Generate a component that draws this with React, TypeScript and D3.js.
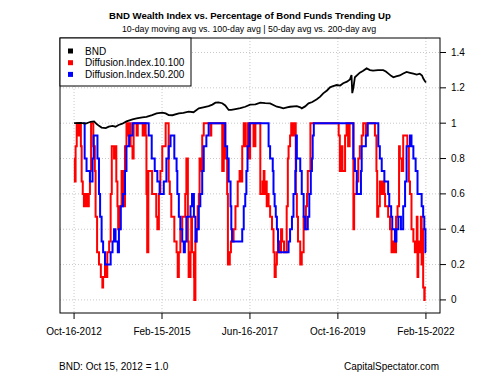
import React from "react";
import * as d3 from "d3";

// Time stamps given as decimal years
const bndDates = [2012.79,2012.83,2012.97,2013.10,2013.23,2013.32,2013.39,2013.45,2013.52,2013.63,2013.71,2013.81,2013.89,2013.97,2014.07,2014.18,2014.34,2014.45,2014.60,2014.71,2014.86,2014.98,2015.13,2015.22,2015.30,2015.40,2015.57,2015.69,2015.83,2015.96,2016.10,2016.22,2016.36,2016.46,2016.54,2016.62,2016.72,2016.80,2016.89,2016.96,2017.07,2017.20,2017.33,2017.46,2017.60,2017.73,2017.86,2017.99,2018.17,2018.26,2018.34,2018.44,2018.52,2018.70,2018.79,2018.83,2018.92,2019.01,2019.11,2019.23,2019.32,2019.40,2019.50,2019.58,2019.66,2019.76,2019.85,2019.93,2020.03,2020.11,2020.15,2020.17,2020.20,2020.24,2020.37,2020.45,2020.55,2020.64,2020.72,2020.85,2020.99,2021.06,2021.12,2021.20,2021.26,2021.33,2021.43,2021.51,2021.61,2021.70,2021.79,2021.88,2021.96,2022.02,2022.05,2022.09,2022.125];
const bndValues = [1.0,1.0,1.002,0.998,1.008,1.01,0.995,0.985,0.975,0.972,0.98,0.985,0.98,0.99,0.997,1.01,1.022,1.027,1.033,1.036,1.046,1.055,1.06,1.055,1.046,1.045,1.055,1.058,1.065,1.062,1.084,1.09,1.097,1.105,1.116,1.118,1.113,1.1,1.075,1.075,1.08,1.085,1.093,1.105,1.107,1.116,1.113,1.112,1.093,1.09,1.084,1.09,1.093,1.097,1.09,1.084,1.095,1.112,1.12,1.135,1.15,1.169,1.185,1.203,1.21,1.216,1.213,1.226,1.235,1.248,1.273,1.17,1.2,1.26,1.286,1.295,1.31,1.3,1.297,1.3,1.3,1.292,1.282,1.268,1.26,1.265,1.27,1.28,1.29,1.285,1.28,1.275,1.28,1.27,1.254,1.24,1.23];

const d10Dates = [2012.79,2012.81,2012.83,2012.86,2012.91,2012.94,2012.97,2012.99,2013.02,2013.05,2013.10,2013.13,2013.18,2013.21,2013.24,2013.30,2013.34,2013.36,2013.40,2013.45,2013.50,2013.54,2013.56,2013.61,2013.65,2013.67,2013.72,2013.76,2013.79,2013.85,2013.88,2013.91,2013.94,2013.96,2014.00,2014.05,2014.09,2014.14,2014.18,2014.21,2014.24,2014.29,2014.34,2014.37,2014.45,2014.48,2014.61,2014.64,2014.69,2014.71,2014.73,2014.76,2014.86,2014.97,2015.00,2015.04,2015.08,2015.13,2015.22,2015.30,2015.33,2015.37,2015.45,2015.51,2015.54,2015.57,2015.61,2015.66,2015.74,2015.77,2015.81,2015.83,2015.88,2015.90,2015.92,2015.97,2015.98,2016.01,2016.04,2016.07,2016.10,2016.12,2016.15,2016.19,2016.23,2016.41,2016.43,2016.72,2016.76,2016.80,2016.85,2016.87,2016.92,2016.95,2017.02,2017.07,2017.13,2017.18,2017.20,2017.25,2017.29,2017.33,2017.39,2017.42,2017.46,2017.55,2017.60,2017.73,2017.79,2017.82,2017.84,2017.86,2017.90,2017.93,2017.95,2017.99,2018.04,2018.08,2018.11,2018.14,2018.17,2018.20,2018.23,2018.28,2018.31,2018.36,2018.43,2018.46,2018.48,2018.52,2018.55,2018.60,2018.64,2018.67,2018.70,2018.73,2018.79,2018.83,2018.88,2018.92,2018.94,2018.97,2018.99,2019.06,2019.81,2019.84,2019.88,2019.91,2019.98,2020.02,2020.06,2020.10,2020.20,2020.22,2020.29,2020.33,2020.37,2020.42,2020.46,2020.53,2020.55,2020.77,2020.81,2020.83,2020.86,2020.90,2020.95,2020.99,2021.02,2021.04,2021.12,2021.17,2021.21,2021.26,2021.30,2021.33,2021.37,2021.41,2021.43,2021.48,2021.52,2021.63,2021.67,2021.70,2021.74,2021.79,2021.83,2021.88,2021.90,2021.92,2021.96,2021.99,2022.01,2022.02,2022.05,2022.08,2022.09,2022.125];
const d10Values = [0.8,0.67,0.87,1.0,0.93,1.0,0.87,0.67,0.6,0.53,0.6,0.53,0.6,0.73,1.0,0.87,0.73,0.47,0.27,0.2,0.13,0.07,0.13,0.2,0.13,0.27,0.33,0.6,0.87,0.8,0.87,0.67,0.53,0.4,0.53,0.73,0.53,0.87,1.0,0.93,1.0,0.87,0.8,1.0,0.93,1.0,0.93,1.0,0.93,0.6,0.27,0.73,0.6,0.47,0.4,0.6,0.73,0.87,1.0,0.67,0.6,0.47,0.33,0.27,0.13,0.27,0.4,0.47,0.6,0.8,0.33,0.13,0.27,0.47,0.27,0.13,0.0,0.33,0.4,0.53,0.6,0.8,0.73,0.93,1.0,0.93,1.0,0.73,1.0,0.8,0.6,0.2,0.27,0.33,0.4,0.53,0.67,0.73,0.67,0.87,1.0,0.87,1.0,0.8,1.0,0.87,1.0,0.6,0.67,0.73,0.6,0.67,0.53,0.6,0.53,0.47,0.4,0.27,0.13,0.2,0.27,0.33,0.27,0.4,0.33,0.27,0.53,0.8,0.87,0.93,1.0,0.93,1.0,0.6,0.47,0.33,0.2,0.27,0.47,0.4,0.53,0.6,0.73,1.0,0.93,0.73,0.87,0.73,0.93,1.0,0.87,1.0,0.4,0.6,0.67,0.8,0.87,0.93,1.0,0.93,1.0,0.93,0.73,0.47,0.53,0.67,0.6,0.67,0.6,0.53,0.47,0.4,0.27,0.33,0.27,0.47,0.53,0.87,0.8,0.73,0.93,0.87,0.67,0.6,0.4,0.33,0.27,0.47,0.13,0.33,0.27,0.47,0.2,0.4,0.07,0.0,0.07,0.07];

const d50Dates = [2013.03,2013.07,2013.12,2013.21,2013.28,2013.31,2013.41,2013.45,2013.48,2013.52,2013.56,2013.61,2013.76,2013.81,2013.85,2013.89,2013.95,2013.98,2014.03,2014.09,2014.14,2014.18,2014.25,2014.34,2014.77,2014.85,2014.93,2015.00,2015.06,2015.17,2015.24,2015.30,2015.35,2015.45,2015.51,2015.53,2015.57,2015.61,2015.66,2015.70,2015.73,2015.77,2015.88,2015.92,2015.97,2016.01,2016.04,2016.10,2016.14,2016.19,2016.23,2016.30,2016.36,2016.80,2016.85,2016.89,2016.94,2016.96,2016.98,2017.25,2017.29,2017.33,2017.36,2017.39,2017.44,2017.95,2017.99,2018.06,2018.08,2018.11,2018.14,2018.17,2018.20,2018.21,2018.48,2018.52,2018.57,2018.61,2018.66,2018.68,2018.70,2018.79,2018.83,2018.88,2018.92,2018.99,2019.03,2019.07,2019.10,2019.12,2019.15,2020.20,2020.24,2020.29,2020.40,2020.42,2020.53,2020.58,2020.86,2020.90,2020.95,2021.02,2021.12,2021.15,2021.20,2021.23,2021.30,2021.34,2021.39,2021.46,2021.52,2021.57,2021.61,2021.70,2021.74,2021.79,2021.85,2021.90,2022.01,2022.05,2022.08,2022.11,2022.125];
const d50Values = [1.0,0.8,0.73,0.67,0.8,0.93,0.8,0.6,0.47,0.33,0.27,0.2,0.27,0.33,0.4,0.33,0.27,0.4,0.53,0.6,0.73,0.87,0.93,1.0,0.93,0.8,0.73,0.67,0.6,0.67,0.8,0.87,0.93,0.8,0.73,0.6,0.47,0.4,0.33,0.27,0.33,0.47,0.53,0.6,0.47,0.33,0.4,0.53,0.6,0.73,0.87,0.93,1.0,0.87,0.8,0.67,0.53,0.4,0.33,0.4,0.53,0.6,0.73,0.87,1.0,0.87,0.8,0.73,0.6,0.53,0.47,0.4,0.33,0.27,0.33,0.4,0.47,0.6,0.73,0.93,0.8,0.73,0.6,0.47,0.4,0.47,0.6,0.73,0.8,0.93,1.0,0.8,0.73,0.6,0.73,0.87,0.93,1.0,0.87,0.8,0.73,0.67,0.6,0.53,0.47,0.4,0.33,0.4,0.47,0.4,0.53,0.67,0.87,0.93,0.87,0.8,0.73,0.6,0.53,0.47,0.4,0.27,0.27];

const xTickLabels = ["2012-10-16", "2015-02-15", "2017-06-16", "2019-10-16", "2022-02-15"];
const yTicks = [0, 0.2, 0.4, 0.6, 0.8, 1, 1.2, 1.4];
const seriesNames = ["BND", "Diffusion.Index.10.100", "Diffusion.Index.50.200"];
const seriesColors = ["#000000", "#FF0000", "#0000FF"];

const W = 500, H = 375;
const L = 60, R = 440, T = 38, B = 313;
const FONT = "'Liberation Sans', Arial, sans-serif";

function yearToDate(d: number): Date {
  const y = Math.floor(d);
  const s = new Date(y, 0, 1).getTime();
  const e = new Date(y + 1, 0, 1).getTime();
  return new Date(s + (d - y) * (e - s));
}
const parse = d3.timeParse("%Y-%m-%d");

export default function App() {
  const first = parse(xTickLabels[0])!;
  const last = parse(xTickLabels[xTickLabels.length - 1])!;
  const pad = (last.getTime() - first.getTime()) * 0.04;
  const x = d3.scaleTime().domain([new Date(first.getTime() - pad), new Date(last.getTime() + pad)]).range([L, R]);
  const y = d3.scaleLinear().domain([-0.074, 1.482]).range([B, T]);
  const fmt = d3.timeFormat("%b-%d-%Y");

  const mk = (ds: number[], vs: number[]) => ds.map((d, i) => [yearToDate(d), vs[i]] as [Date, number]);
  const step = d3.line<[Date, number]>().x(d => x(d[0])).y(d => y(d[1])).curve(d3.curveStepAfter);
  const lin = d3.line<[Date, number]>().x(d => x(d[0])).y(d => y(d[1]));

  const xTicks = xTickLabels.map(s => parse(s)!);

  return (
    <svg width={W} height={H} style={{ position: "absolute", left: 0, top: 0, background: "#fff" }} fontFamily={FONT}>
      <rect width={W} height={H} fill="#fff" />
      <text x={250} y={19} textAnchor="middle" fontSize={9.6} fontWeight="bold">BND Wealth Index vs. Percentage of Bond Funds Trending Up</text>
      <text x={249} y={32} textAnchor="middle" fontSize={8.8}>10-day moving avg vs. 100-day avg | 50-day avg vs. 200-day avg</text>
      {/* grid */}
      {xTicks.map((t, i) => (
        <line key={"gx" + i} x1={x(t)} x2={x(t)} y1={T} y2={B} stroke="#c8c8c8" strokeDasharray="1,2" />
      ))}
      {yTicks.map((t, i) => (
        <line key={"gy" + i} x1={L} x2={R} y1={y(t)} y2={y(t)} stroke="#c8c8c8" strokeDasharray="1,2" />
      ))}
      <defs>
        <clipPath id="pc"><rect x={L} y={T} width={R - L} height={B - T} /></clipPath>
      </defs>
      <g clipPath="url(#pc)">
        <path d={step(mk(d10Dates, d10Values)) || ""} fill="none" stroke={seriesColors[1]} strokeWidth={2} />
        <path d={step(mk(d50Dates, d50Values)) || ""} fill="none" stroke={seriesColors[2]} strokeWidth={2} />
        <path d={lin(mk(bndDates, bndValues)) || ""} fill="none" stroke={seriesColors[0]} strokeWidth={1.8} />
      </g>
      <rect x={L} y={T} width={R - L} height={B - T} fill="none" stroke="#000" strokeWidth={1} />
      {/* x axis */}
      {xTicks.map((t, i) => (
        <g key={"tx" + i}>
          <line x1={x(t)} x2={x(t)} y1={B} y2={B + 6} stroke="#000" />
          <text x={x(t)} y={335} textAnchor="middle" fontSize={10}>{fmt(t)}</text>
        </g>
      ))}
      {/* y axis right */}
      {yTicks.map((t, i) => (
        <g key={"ty" + i}>
          <line x1={R} x2={R + 6} y1={y(t)} y2={y(t)} stroke="#000" />
          <text x={451} y={y(t) + 3.5} fontSize={10}>{String(t)}</text>
        </g>
      ))}
      {/* legend */}
      <rect x={L} y={T} width={131} height={48} fill="#fff" stroke="#000" strokeWidth={1} />
      {seriesNames.map((n, i) => (
        <g key={"lg" + i}>
          <rect x={68} y={48.5 + i * 11.7} width={5} height={5} fill={seriesColors[i]} />
          <text x={85} y={54.5 + i * 11.7} fontSize={10}>{n}</text>
        </g>
      ))}
      <text x={59} y={370} fontSize={10}>BND: Oct 15, 2012 = 1.0</text>
      <text x={439} y={370} fontSize={10} textAnchor="end">CapitalSpectator.com</text>
    </svg>
  );
}
